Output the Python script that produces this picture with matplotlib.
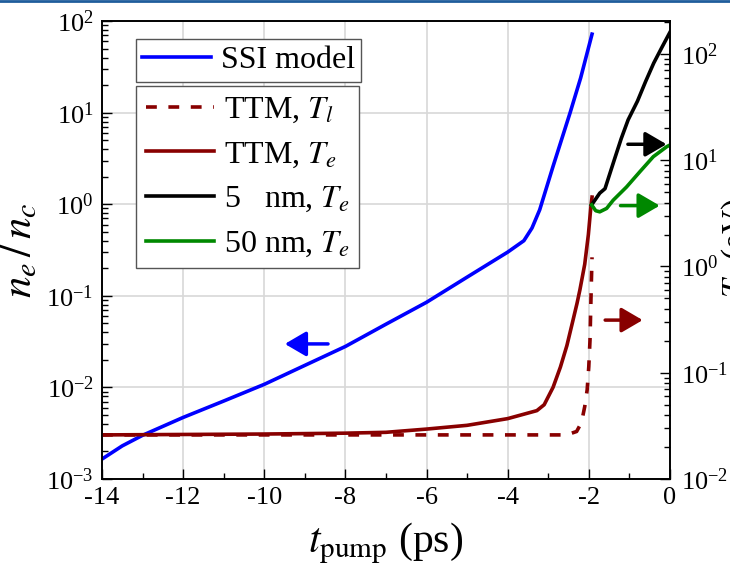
import numpy as np
import matplotlib
matplotlib.use('Agg')
import matplotlib.pyplot as plt
from matplotlib.ticker import FixedLocator, LogLocator, NullFormatter, FuncFormatter
from matplotlib.lines import Line2D

plt.rcParams['font.family'] = ['Liberation Serif', 'DejaVu Serif']
plt.rcParams['mathtext.fontset'] = 'stix'

# SSI model, n_e/n_c (left axis)
t_ssi = [-14, -13.5, -13, -12, -11, -10, -9, -8, -7, -6, -5, -4, -3.6,
         -3.4, -3.21, -2.88, -2.46, -2.2, -1.92]
ne_ssi = [1.65e-3, 2.3e-3, 3.0e-3, 4.7e-3, 7.1e-3, 1.08e-2, 1.74e-2, 2.8e-2,
          4.9e-2, 8.5e-2, 0.16, 0.30, 0.40, 0.55, 0.87, 2.6, 10, 24, 72]

# TTM, electron temperature (right axis, eV)
t_ttm_e = [-14, -10, -8, -7, -6, -5, -4, -3.28, -3.1, -2.88, -2.7, -2.54,
           -2.4, -2.29, -2.22, -2.1, -2.01, -1.95, -1.92]
T_ttm_e = [0.026, 0.0265, 0.027, 0.0275, 0.0295, 0.0320, 0.037, 0.044, 0.050,
           0.073, 0.113, 0.18, 0.30, 0.45, 0.60, 1.05, 2.0, 3.6, 4.5]

# TTM, lattice temperature
t_ttm_l = [-14, -10, -6, -2.55, -2.30, -2.18, -2.10, -2.04, -2.0, -1.97,
           -1.955, -1.935, -1.92]
T_ttm_l = [0.026, 0.026, 0.026, 0.026, 0.028, 0.034, 0.048, 0.069, 0.114,
           0.203, 0.36, 0.75, 1.22]

# 5 nm, Te
t_5nm = [-1.93, -1.73, -1.6, -1.48, -1.36, -1.2, -1.03, -0.8, -0.6, -0.4,
         -0.2, 0]
T_5nm = [3.8, 4.9, 5.4, 7.5, 10.4, 16, 24, 36, 55, 82, 115, 160]

# 50 nm, Te
t_50nm = [-1.93, -1.83, -1.73, -1.56, -1.4, -1.07, -0.74, -0.41, -0.08, 0]
T_50nm = [3.8, 3.35, 3.27, 3.52, 4.2, 5.6, 7.8, 10.8, 13.4, 13.9]

blue = '#0000ff'
dred = '#880000'
green = '#008800'
lw = 2.6


def fmt_pow(v, pos):
    e = int(round(np.log10(v)))
    return r'$\mathregular{10^{%d}}$' % e


fig = plt.figure(figsize=(7.3, 5.76), dpi=100)
ax = fig.add_axes([0.1397, 0.1684, 0.778, 0.795])
ax2 = ax.twinx()

ax.plot(t_ssi, ne_ssi, color=blue, lw=lw, label='SSI model')
ax.set_yscale('log')
ax.set_xlim(-14, 0)
ax.set_ylim(1e-3, 1e2)

l1, = ax2.plot(t_ttm_l, T_ttm_l, color=dred, lw=lw, ls=(0, (3, 3.2)),
               label='TTM, $T_l$')
l2, = ax2.plot(t_ttm_e, T_ttm_e, color=dred, lw=lw, label='TTM, $T_e$')
l3, = ax2.plot(t_5nm, T_5nm, color='black', lw=lw, label='5   nm, $T_e$')
l4, = ax2.plot(t_50nm, T_50nm, color=green, lw=lw, label='50 nm, $T_e$')
ax2.set_yscale('log')
ax2.set_ylim(1e-2, 2.04e2)

# ticks
ax.xaxis.set_major_locator(FixedLocator(np.arange(-14, 1, 2)))
ax.xaxis.set_minor_locator(FixedLocator(np.arange(-13, 0, 2)))
ax.xaxis.set_major_formatter(FuncFormatter(lambda v, p: '%d' % v))
for a in (ax, ax2):
    a.yaxis.set_major_locator(LogLocator(base=10, numticks=12))
    a.yaxis.set_minor_locator(LogLocator(base=10, subs=np.arange(2, 10), numticks=12))
    a.yaxis.set_minor_formatter(NullFormatter())
    a.yaxis.set_major_formatter(FuncFormatter(fmt_pow))
ax.tick_params(which='both', direction='in', top=False, right=False,
               labelsize=19, width=1)
ax.tick_params(which='major', length=7, pad=6)
ax.tick_params(which='minor', length=4)
ax2.tick_params(which='both', direction='in', labelsize=19, width=1)
ax2.tick_params(which='major', length=7, pad=8)
ax2.tick_params(which='minor', length=4)

ax.grid(True, which='major', color='#d8d8d8', lw=1.2)
ax.set_axisbelow(True)
for a in (ax, ax2):
    for s in a.spines.values():
        s.set_linewidth(1.2)

ax.set_xlabel(r'$t_{\mathrm{pump}}$ (ps)', fontsize=30)
ax.xaxis.set_label_coords(0.5, -0.09)
ax.set_ylabel(r'$n_e\,/\,n_c$', fontsize=31)
ax.yaxis.set_label_coords(-0.108, 0.5)

# right axis title, clipped by the picture edge as in the original
fig.text(0.986, 0.57, r'$T_e$ (eV)', rotation=90, ha='left', va='center',
         fontsize=24)

# arrows
arrows = [((0.398, 0.295), (0.322, 0.295), blue),
          ((0.886, 0.347), (0.952, 0.347), dred),
          ((0.926, 0.731), (0.994, 0.731), 'black'),
          ((0.913, 0.597), (0.982, 0.597), green)]
for tail, head, c in arrows:
    ax2.annotate('', xy=head, xytext=tail, xycoords='axes fraction',
                 arrowprops=dict(arrowstyle='-|>,head_length=0.65,head_width=0.38',
                                 color=c, lw=2.5, mutation_scale=20,
                                 shrinkA=0, shrinkB=0))

# legends
leg_kw = dict(loc='upper left', fontsize=23, frameon=True, fancybox=False,
              edgecolor='#555555', framealpha=1, handlelength=2.15,
              handletextpad=0.3, borderaxespad=0)
leg1 = ax2.legend(handles=ax.get_lines(), bbox_to_anchor=(0.06, 0.96),
                  borderpad=0.2, **leg_kw)
leg1.get_frame().set_linewidth(1.0)
ax2.add_artist(leg1)
leg2 = ax2.legend(handles=[l1, l2, l3, l4], bbox_to_anchor=(0.06, 0.858),
                  borderpad=0.3, labelspacing=0.47, **leg_kw)
leg2.get_frame().set_linewidth(1.0)

# thin blue rule at the very top of the picture
fig.add_artist(Line2D([0, 1], [0.9975, 0.9975], color='#1f5d9c', lw=2,
                      transform=fig.transFigure))

fig.savefig('out.png', dpi=100)
